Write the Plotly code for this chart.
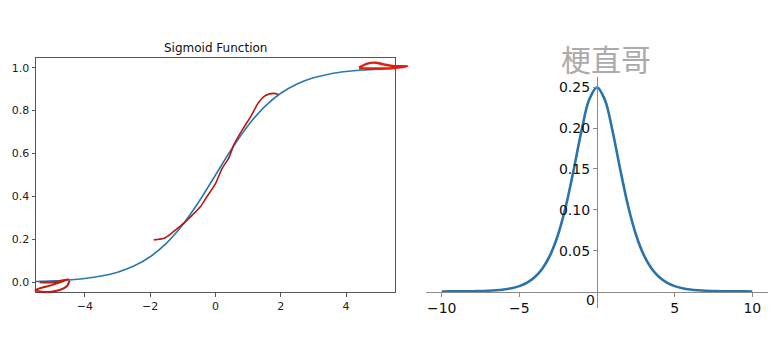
import plotly.graph_objects as go

W, H = 780, 355

# ---------------- data ----------------
sig_x = [-5.5, -5.0, -4.5, -4.0, -3.5, -3.0, -2.5, -2.0, -1.5, -1.0, -0.5, 0.0,
         0.5, 1.0, 1.5, 2.0, 2.5, 3.0, 3.5, 4.0, 4.5, 5.0, 5.5]
sig_y = [0.0041, 0.0067, 0.0110, 0.0180, 0.0293, 0.0474, 0.0759, 0.1192, 0.1824, 0.2689, 0.3775, 0.5,
         0.6225, 0.7311, 0.8176, 0.8808, 0.9241, 0.9526, 0.9707, 0.9820, 0.9890, 0.9933, 0.9959]

dsig_x = [-10.0, -9.5, -9.0, -8.5, -8.0, -7.5, -7.0, -6.5, -6.0, -5.5, -5.0, -4.5, -4.0, -3.5, -3.0,
          -2.5, -2.0, -1.5, -1.0, -0.5, 0.0, 0.5, 1.0, 1.5, 2.0, 2.5, 3.0, 3.5, 4.0, 4.5, 5.0,
          5.5, 6.0, 6.5, 7.0, 7.5, 8.0, 8.5, 9.0, 9.5, 10.0]
dsig_y = [0.0000, 0.0001, 0.0001, 0.0002, 0.0003, 0.0006, 0.0009, 0.0015, 0.0025, 0.0041, 0.0066,
          0.0109, 0.0177, 0.0285, 0.0452, 0.0701, 0.1050, 0.1491, 0.1966, 0.2350, 0.25,
          0.2350, 0.1966, 0.1491, 0.1050, 0.0701, 0.0452, 0.0285, 0.0177, 0.0109, 0.0066,
          0.0041, 0.0025, 0.0015, 0.0009, 0.0006, 0.0003, 0.0002, 0.0001, 0.0001, 0.0000]

# hand-drawn red strokes (in sigmoid-plot data units)
mid_x = [-1.89, -1.58, -1.28, -0.92, -0.46, -0.26, 0.0, 0.2, 0.41, 0.56, 0.82, 1.07, 1.33, 1.53, 1.79, 1.92]
mid_y = [0.198, 0.205, 0.237, 0.283, 0.353, 0.40, 0.46, 0.53, 0.58, 0.64, 0.71, 0.77, 0.84, 0.87, 0.88, 0.875]

low_x = [-5.39, -4.96, -4.50, -5.00, -5.52, -5.27, -4.86, -4.55, -4.47]
low_y = [0.0, 0.0, 0.014, -0.012, -0.036, -0.045, -0.039, -0.017, 0.008]

top_x = [4.40, 4.65, 4.91, 5.16, 5.47, 5.88, 5.60, 5.10, 4.40]
top_y = [1.0, 1.019, 1.023, 1.015, 1.007, 1.007, 1.0, 0.996, 0.997]

sig_xticks = [-4, -2, 0, 2, 4]
sig_yticks = [0.0, 0.2, 0.4, 0.6, 0.8, 1.0]
d_xticks = [-10, -5, 5, 10]
d_yticks = [0.05, 0.10, 0.15, 0.20, 0.25]

# ---------------- layout geometry ----------------
L_px = (36, 395)       # left plot x pixel extent
L_py = (58, 292)       # left plot y pixel extent (top, bottom)
L_xr = [-5.5, 5.5]
L_yr = [-0.045, 1.045]

R_xr = [-11, 11]
R_yr = [-0.020, 0.2625]
R_zero_px = 597.0
R_xscale = 15.53
R_y0_px = 291.5
R_yscale = 816.7

lx_dom = [L_px[0] / W, L_px[1] / W]
ly_dom = [1 - L_py[1] / H, 1 - L_py[0] / H]

rx_dom = [(R_zero_px + R_xr[0] * R_xscale) / W, (R_zero_px + R_xr[1] * R_xscale) / W]
ry_dom = [1 - (R_y0_px - R_yr[0] * R_yscale) / H, 1 - (R_y0_px - R_yr[1] * R_yscale) / H]

# overlay axis spanning the whole paper, same scale as the left plot
sx = (L_px[1] - L_px[0]) / (L_xr[1] - L_xr[0])
sy = (L_py[1] - L_py[0]) / (L_yr[1] - L_yr[0])
ov_xr = [L_xr[0] - L_px[0] / sx, L_xr[0] + (W - L_px[0]) / sx]
ov_yr = [L_yr[0] - (H - L_py[1]) / sy, L_yr[0] + L_py[1] / sy]

fig = go.Figure()

fig.add_trace(go.Scatter(x=sig_x, y=sig_y, mode="lines", line=dict(color="#2b78b3", width=1.6, shape="spline"),
                         xaxis="x", yaxis="y", showlegend=False, hoverinfo="skip"))

fig.add_trace(go.Scatter(x=dsig_x, y=dsig_y, mode="lines", line=dict(color="#2a74ab", width=2.6, shape="spline"),
                         xaxis="x2", yaxis="y2", showlegend=False, hoverinfo="skip"))

for xs, ys, col, w in [(mid_x, mid_y, "#b8180e", 1.6), (low_x, low_y, "#c4190f", 2.0), (top_x, top_y, "#e0200f", 2.4)]:
    fig.add_trace(go.Scatter(x=xs, y=ys, mode="lines", line=dict(color=col, width=w, shape="spline", smoothing=0.8),
                             xaxis="x3", yaxis="y3", showlegend=False, hoverinfo="skip"))

font_l = dict(family="DejaVu Sans", size=11, color="#222222")
font_r = dict(family="DejaVu Sans", size=14, color="#111111")

fig.update_layout(
    width=W, height=H,
    margin=dict(l=0, r=0, t=0, b=0),
    paper_bgcolor="white", plot_bgcolor="rgba(0,0,0,0)",
    xaxis=dict(domain=lx_dom, range=L_xr, anchor="y", showgrid=False, zeroline=False,
               showline=True, mirror=True, linecolor="#555555", linewidth=1,
               ticks="outside", ticklen=3.5, tickcolor="#555555", tickvals=sig_xticks,
               tickfont=font_l, fixedrange=True),
    yaxis=dict(domain=ly_dom, range=L_yr, anchor="x", showgrid=False, zeroline=False,
               showline=True, mirror=True, linecolor="#555555", linewidth=1,
               ticks="outside", ticklen=3.5, tickcolor="#555555", tickvals=sig_yticks,
               tickformat=".1f", tickfont=font_l, fixedrange=True),
    xaxis2=dict(domain=rx_dom, range=R_xr, anchor="free", position=1 - R_y0_px / H,
                showgrid=False, zeroline=False, showline=True, linecolor="#8a8a8a", linewidth=1.2,
                ticks="outside", ticklen=4, tickcolor="#8a8a8a", tickvals=d_xticks,
                tickfont=font_r, fixedrange=True),
    yaxis2=dict(domain=ry_dom, range=R_yr, anchor="free", position=R_zero_px / W,
                showgrid=False, zeroline=False, showline=True, linecolor="#8a8a8a", linewidth=1.2,
                ticks="outside", ticklen=4, tickcolor="#8a8a8a", tickvals=d_yticks,
                tickformat=".2f", tickfont=font_r, fixedrange=True),
    xaxis3=dict(domain=[0, 1], range=ov_xr, anchor="y3", visible=False, fixedrange=True),
    yaxis3=dict(domain=[0, 1], range=ov_yr, anchor="x3", visible=False, fixedrange=True),
    annotations=[
        dict(text="Sigmoid Function", xref="paper", yref="paper", x=215.5 / W, y=1 - 48 / H,
             showarrow=False, font=dict(family="DejaVu Sans", size=12, color="#111111"),
             xanchor="center", yanchor="middle"),
        dict(text="0", xref="x2", yref="y2", x=-0.45, y=-0.011, showarrow=False,
             font=font_r, xanchor="center", yanchor="middle"),
        dict(text="梗直哥", xref="paper", yref="paper", x=606 / W, y=1 - 58 / H,
             showarrow=False, font=dict(family="Noto Sans CJK SC", size=30, color="#ababab"),
             xanchor="center", yanchor="middle"),
    ],
)

fig.write_html("out.html", config={"displayModeBar": False},
               post_script="document.body.style.margin='0';document.body.style.overflow='hidden';")
